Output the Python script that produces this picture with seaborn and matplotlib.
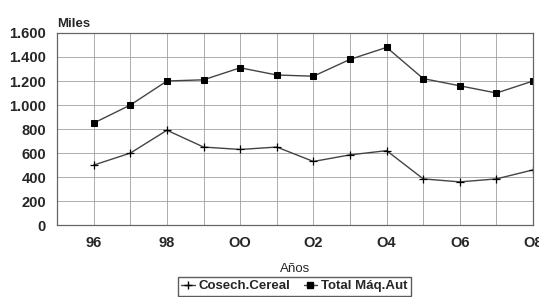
import seaborn as sns
from matplotlib import pyplot as plt

# Datos (miles)
years = ['96', '97', '98', '99', 'OO', 'O1', 'O2', 'O3', 'O4', 'O5', 'O6', 'O7', 'O8']
cosech_cereal = [500, 600, 790, 650, 630, 650, 530, 585, 620, 385, 360, 385, 460]
total_maq_aut = [850, 1000, 1200, 1210, 1310, 1250, 1240, 1380, 1480, 1220, 1160, 1100, 1200]
tick_years = ['96', '98', 'OO', 'O2', 'O4', 'O6', 'O8']
y_ticks = [0, 200, 400, 600, 800, 1000, 1200, 1400, 1600]

sns.set_style("white")
plt.rcParams['font.family'] = ['Liberation Sans', 'DejaVu Sans']
plt.rcParams['font.weight'] = 'bold'

idx = list(range(len(years)))
line_col = '#444444'

fig = plt.figure(figsize=(5.39, 2.97), dpi=100)
ax = fig.add_axes([0.106, 0.242, 0.883, 0.647])

# Cosech.Cereal
sns.lineplot(x=idx, y=cosech_cereal, marker='+', markersize=6, markeredgecolor='black',
             markeredgewidth=0.9, color=line_col, linewidth=1.0, ax=ax)
# Total Máq.Aut
sns.lineplot(x=idx, y=total_maq_aut, marker='s', markersize=4.5, markerfacecolor='black',
             markeredgecolor='black', color=line_col, linewidth=1.0, ax=ax)

ax.set_xlim(-1, len(years) - 1)
ax.set_ylim(0, 1600)
ax.set_xticks(idx)
ax.set_xticklabels([y if y in tick_years else '' for y in years], fontsize=10.5)
ax.set_yticks(y_ticks)
ax.set_yticklabels([f"{v:,}".replace(',', '.') for v in y_ticks], fontsize=10.5)
ax.tick_params(length=0, pad=8)
ax.grid(True, color='#a0a0a0', linewidth=0.6)
for s in ax.spines.values():
    s.set_color('#666666')
    s.set_linewidth(0.9)
ax.set_xlabel('Años', fontsize=9.5, labelpad=9)
ax.set_ylabel('')
ax.text(0.0, 1.015, 'Miles', transform=ax.transAxes, fontsize=9.5, ha='left', va='bottom')

handles = [
    plt.Line2D([], [], color=line_col, marker='+', markersize=6, markeredgecolor='black', linewidth=1.0),
    plt.Line2D([], [], color=line_col, marker='s', markersize=4, markerfacecolor='black',
               markeredgecolor='black', linewidth=1.0),
]
fig.legend(handles, ['Cosech.Cereal', 'Total Máq.Aut'], loc='upper center', bbox_to_anchor=(0.546, 0.068),
           ncol=2, frameon=True, fancybox=False, edgecolor='#333333', fontsize=9.5,
           handlelength=1.0, handletextpad=0.3, columnspacing=1.0, borderpad=0.25, borderaxespad=0)

fig.savefig('out.png', dpi=100)
